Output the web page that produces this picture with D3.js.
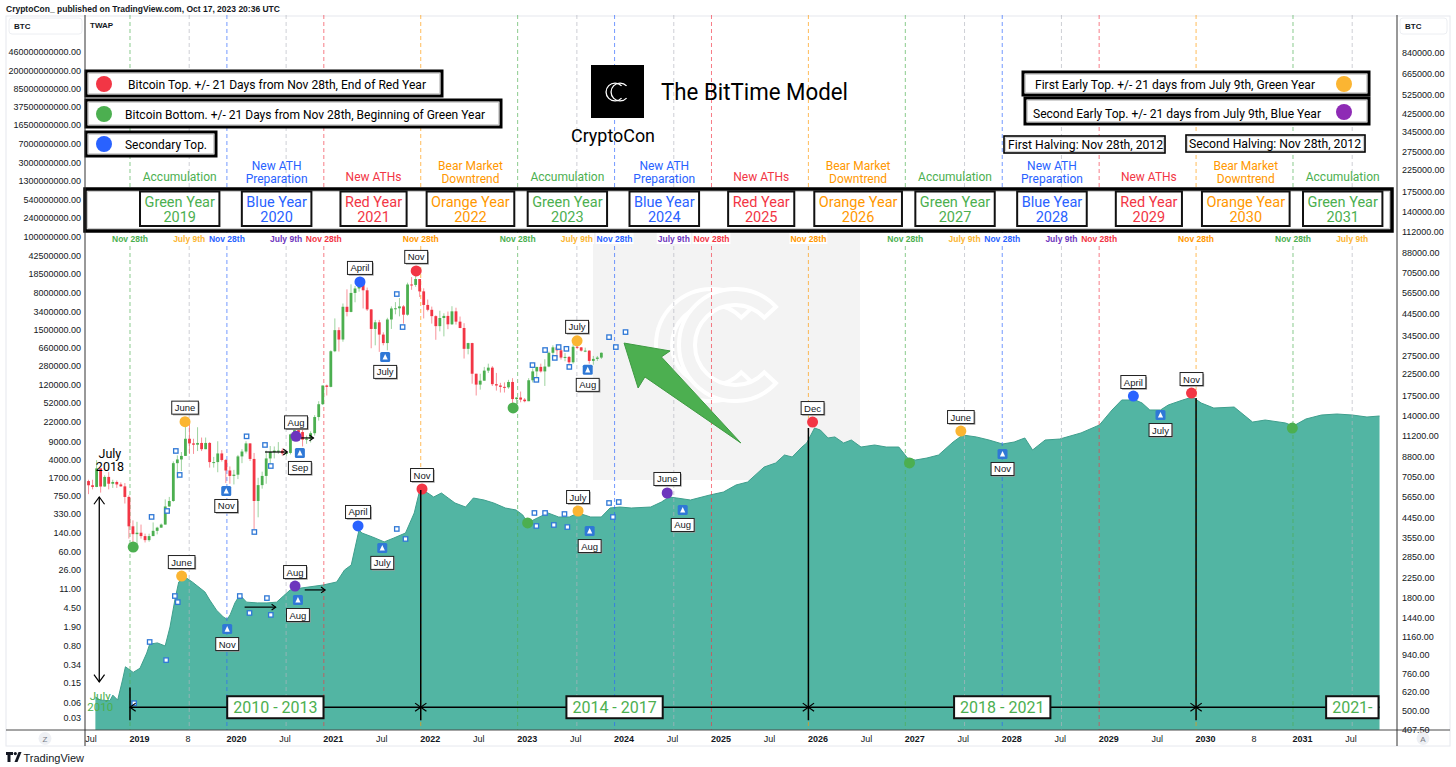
<!DOCTYPE html>
<html>
<head>
<meta charset="utf-8">
<title>The BitTime Model</title>
<script src="https://cdn.jsdelivr.net/npm/d3@7"></script>
<style>
  body { margin: 0; background: #fff; }
  svg text { font-family: "Liberation Sans", Arial, sans-serif; fill: #131722; }
  svg text.an { font-family: Roboto, "Liberation Sans", sans-serif; }
</style>
</head>
<body>
<svg id="chart"></svg>
<script>
// ---------- axis ticks ----------
var leftTicks = [0.03, 0.06, 0.15, 0.34, 0.80, 1.90, 4.50, 11, 26, 60, 140, 330, 750, 1700, 4000, 9000,
  22000, 52000, 120000, 280000, 660000, 1500000, 3400000, 8000000, 18500000, 42500000, 100000000,
  240000000, 540000000, 1300000000, 3000000000, 7000000000, 16500000000, 37500000000, 85000000000,
  200000000000, 460000000000];
var rightTicks = [407.5, 500, 620, 760, 940, 1160, 1440, 1800, 2250, 2850, 3550, 4450, 5650, 7050, 8800,
  11200, 14000, 17500, 22500, 27500, 34500, 44500, 56500, 70500, 88000, 112000, 140000, 175000, 225000,
  275000, 345000, 425000, 525000, 665000, 840000];
var timeTicks = [2018.5, 2019, 2019.5, 2020, 2020.5, 2021, 2021.5, 2022, 2022.5, 2023, 2023.5, 2024, 2024.5,
  2025, 2025.5, 2026, 2026.5, 2027, 2027.5, 2028, 2028.5, 2029, 2029.5, 2030, 2030.5, 2031, 2031.5];
var timeLabels = ["Jul", "2019", "8", "2020", "Jul", "2021", "Jul", "2022", "Jul", "2023", "Jul", "2024", "Jul",
  "2025", "Jul", "2026", "Jul", "2027", "Jul", "2028", "Jul", "2029", "Jul", "2030", "8", "2031", "Jul"];

// ---------- BTC history (area, left scale, drawn 8 years ahead) ----------
var areaShift = 8;
var areaYears = [2010.55, 2010.60, 2010.70, 2010.73, 2010.78, 2010.83, 2010.86, 2010.94, 2011.01, 2011.08,
  2011.11, 2011.19, 2011.27, 2011.32, 2011.37, 2011.41, 2011.49, 2011.55, 2011.63, 2011.68, 2011.73, 2011.80,
  2011.87, 2011.91, 2011.94, 2011.99, 2012.04, 2012.11, 2012.22, 2012.32, 2012.42, 2012.49, 2012.56, 2012.67,
  2012.90, 2013.04, 2013.12, 2013.19, 2013.27, 2013.30, 2013.41, 2013.53, 2013.63, 2013.75, 2013.84, 2013.89,
  2013.92, 2013.98, 2014.04, 2014.12, 2014.19, 2014.26, 2014.37, 2014.45, 2014.56, 2014.66, 2014.78, 2014.89,
  2014.96, 2015.01, 2015.11, 2015.22, 2015.33, 2015.44, 2015.53, 2015.66, 2015.77, 2015.86, 2015.96, 2016.08,
  2016.28, 2016.39, 2016.47, 2016.55, 2016.69, 2016.89, 2017.03, 2017.16, 2017.28, 2017.45, 2017.57, 2017.66,
  2017.74, 2017.84, 2017.89, 2017.97, 2018.03, 2018.11, 2018.18, 2018.27, 2018.35, 2018.45, 2018.59, 2018.71,
  2018.84, 2018.93, 2019.01, 2019.13, 2019.25, 2019.40, 2019.50, 2019.64, 2019.77, 2019.91, 2020.03, 2020.14,
  2020.22, 2020.35, 2020.50, 2020.72, 2020.91, 2021.04, 2021.14, 2021.28, 2021.35, 2021.43, 2021.54, 2021.62,
  2021.77, 2021.87, 2021.96, 2022.09, 2022.30, 2022.49, 2022.62, 2022.83, 2022.91, 2023.04, 2023.20, 2023.36,
  2023.52, 2023.67, 2023.80];
var areaPrices = [0.078, 0.068, 0.066, 0.085, 0.068, 0.17, 0.31, 0.24, 0.29, 0.58,
  0.87, 0.92, 0.80, 1.9, 6.5, 14.8, 17.7, 14.8, 11.2, 9.4, 6.5, 4.1,
  3.0, 2.7, 3.3, 5.7, 8.2, 5.9, 5.7, 5.7, 5.9, 7.8, 10.3, 11.2,
  12.9, 14.8, 25.5, 32, 158, 138, 115, 92, 110, 138, 344, 855,
  936, 855, 711, 855, 680, 542, 451, 680, 621, 542, 431, 394,
  313, 218, 274, 344, 286, 286, 344, 286, 286, 431, 451, 431,
  451, 566, 711, 680, 621, 780, 893, 1230, 1410, 2790, 3360, 4830,
  4410, 6950, 8350, 16500, 15100, 10500, 11000, 8350, 9570, 6950, 7620, 6950,
  6950, 4210, 3840, 4210, 4830, 8730, 12000, 11000, 9570, 7980, 8730, 10500,
  6070, 9570, 10000, 13200, 19000, 37600, 59300, 59300, 51700, 37600, 37600, 47200,
  59300, 67900, 51700, 41100, 43000, 21700, 23800, 20800, 18100, 24900, 29900, 31300,
  29900, 27300, 28600];

// ---------- BTC candles, half-month, from 2018-06-16 (right scale) ----------
var candleOpen0 = 6700;
var candleClose = [6390, 6270, 7730, 6300, 7020, 6500, 6630, 6450, 6310, 5600, 4020, 3680, 3740,
  3600, 3440, 3600, 3820, 3960, 4100, 5030, 5350, 8200, 8550, 8900, 10800, 10250, 10100, 10300, 9600, 10300, 8300, 8300, 9150, 8500, 7550, 7100, 7200,
  8850, 9350, 10250, 8600, 5350, 6400, 7100, 8650, 9300, 9450, 9450, 9150, 9200, 11350, 11900, 11650, 10700, 10800, 11500, 13800, 15950, 19700, 19400, 29000,
  36800, 33100, 47900, 45200, 56000, 58900, 63200, 57700, 46500, 37300, 40200, 35000, 31800, 41500, 47000, 47100, 48100, 43800, 61600, 61300, 65500, 57000, 48900, 46300,
  43100, 38500, 42200, 43200, 39300, 45500, 40500, 37700, 29800, 31800, 22500, 19900, 20800, 23300, 24100, 20000, 19700, 19400, 19300, 20500, 16900, 17200, 16800, 16500,
  20900, 23100, 24300, 23100, 24400, 28500, 30300, 29300, 27000, 27200, 25600, 30500, 30300, 29200, 29200, 26000, 26600, 27000, 28500];
var candleHigh = [6800, 6800, 8480, 7700, 7150, 7410, 6800, 6740, 6600, 6550, 5700, 4300, 4230,
  4100, 3700, 3700, 4200, 4000, 4150, 5450, 5600, 8370, 8950, 9300, 13800, 13200, 10800, 12300, 10950, 10950, 10400, 8800, 10500, 9500, 8600, 7900, 7600,
  9000, 9600, 10500, 10200, 9200, 6950, 7450, 9450, 9950, 9900, 10400, 9700, 9350, 11450, 12050, 12450, 12050, 11200, 11750, 14100, 16500, 19500, 19900, 29300,
  42000, 38000, 49700, 58300, 61700, 60600, 64800, 63500, 59500, 46700, 41300, 41300, 35900, 42300, 48100, 50500, 52900, 48800, 62900, 67000, 69000, 61000, 59000, 52000,
  48000, 43500, 45800, 44500, 45400, 48200, 47400, 42900, 39800, 31900, 31900, 21700, 22500, 24300, 25200, 24500, 22700, 20300, 20400, 21000, 21400, 17200, 18400, 17100,
  21400, 23900, 24300, 25200, 26500, 28900, 31000, 30500, 29800, 28400, 27500, 31400, 31800, 30400, 30200, 29300, 27500, 27500, 28600];
var candleLow = [5780, 6100, 6250, 5880, 6280, 6100, 6200, 6200, 6300, 5200, 3500, 3150, 3250,
  3500, 3350, 3380, 3600, 3670, 3950, 4100, 5000, 5300, 6900, 7500, 9000, 9100, 9100, 9400, 9400, 9650, 7800, 7800, 7400, 8350, 6550, 6500, 6450,
  6850, 8200, 9150, 8400, 3900, 4450, 6150, 6500, 8100, 8650, 9100, 8900, 8900, 9050, 10600, 11150, 9900, 10200, 10350, 11200, 13250, 15800, 17600, 19300,
  28700, 28900, 32300, 43000, 45000, 50400, 56800, 47000, 45700, 30000, 31000, 28800, 31000, 29300, 37300, 44000, 43000, 39600, 43300, 58000, 60000, 53500, 42000, 45500,
  39600, 33000, 36300, 34300, 37200, 39000, 39200, 37600, 26700, 28000, 20100, 17600, 18800, 20800, 22700, 19600, 18600, 18200, 18200, 19000, 15600, 15500, 16300, 16300,
  16500, 20400, 21400, 22800, 19600, 24200, 27200, 27000, 26400, 25900, 24800, 25200, 29700, 28900, 28700, 25200, 24900, 26000, 26600];

// ---------- cycle markers ----------
var candleDots = [
  {yr: 2018.94, v: 3180, c: "green"}, {yr: 2019.475, v: 13100, c: "yellow", t: "June"},
  {yr: 2020.62, v: 11100, c: "purple", t: "Aug"}, {yr: 2021.28, v: 63400, c: "blue", t: "April"},
  {yr: 2021.86, v: 71800, c: "red", t: "Nov"}, {yr: 2022.86, v: 15300, c: "green"},
  {yr: 2023.52, v: 32600, c: "yellow", t: "July"}];
var candleFlags = [{yr: 2019.90, v: 5990, t: "Nov"}, {yr: 2020.66, v: 9200, t: "Sep"},
  {yr: 2021.54, v: 27200, t: "July"}, {yr: 2023.63, v: 23500, t: "Aug"}];
var candleTwap = [[2019.13, 4470], [2019.29, 4780], [2019.38, 9410], [2019.42, 7180], [2020.11, 11100], [2020.19, 3770],
  [2020.30, 10070], [2020.36, 7940], [2021.66, 55300], [2021.72, 38100], [2023.06, 24800], [2023.10, 21000],
  [2023.19, 29400], [2023.29, 26900], [2023.33, 30400], [2023.41, 29800], [2023.44, 24300], [2023.85, 34000],
  [2023.92, 30400], [2024.02, 36000]];
var candleArrows = [[2020.30, 2020.53, 9300], [2020.59, 2020.80, 10900]];

var areaDots = [
  {yr: 2011.44, v: 19.4, c: "yellow", t: "June"}, {yr: 2012.61, v: 12.3, c: "purple", t: "Aug"},
  {yr: 2013.26, v: 190, c: "blue", t: "April"}, {yr: 2013.92, v: 1025, c: "red", t: "Nov"},
  {yr: 2015.01, v: 218, c: "green"}, {yr: 2015.53, v: 376, c: "yellow", t: "July"},
  {yr: 2016.45, v: 855, c: "purple", t: "June"}, {yr: 2017.95, v: 21700, c: "red", t: "Dec"},
  {yr: 2018.95, v: 3360, c: "green"}, {yr: 2019.48, v: 14400, c: "yellow", t: "June"},
  {yr: 2021.26, v: 71100, c: "blue", t: "April"}, {yr: 2021.86, v: 81500, c: "red", t: "Nov"},
  {yr: 2022.90, v: 16500, c: "green"}];
var areaFlags = [{yr: 2011.91, v: 1.73, t: "Nov"}, {yr: 2012.64, v: 6.5, t: "Aug"}, {yr: 2013.51, v: 70, t: "July"},
  {yr: 2015.65, v: 151, t: "Aug"}, {yr: 2016.61, v: 394, t: "Aug"}, {yr: 2019.91, v: 5060, t: "Nov"},
  {yr: 2021.54, v: 29900, t: "July"}];
var areaTwap = [[2010.95, 0.059], [2011.11, 0.96], [2011.28, 0.42], [2011.37, 7.8], [2011.40, 5.9], [2012.04, 7.8],
  [2012.14, 3.6], [2012.32, 7.1], [2012.36, 3.3], [2013.66, 166], [2013.75, 105], [2015.08, 344], [2015.10, 190],
  [2015.19, 344], [2015.28, 199], [2015.39, 328], [2015.42, 181], [2015.85, 542], [2015.89, 286], [2015.95, 566]];
var areaArrows = [[2012.09, 2012.41, 4.7], [2012.71, 2012.92, 10.3]];

// cycle tops (left scale) and the 4-year ranges
var cycleYears = [2018.907, 2021.907, 2025.907, 2029.907];
var cycleTops = [0.12, 980, 16500, 64900];
var cycleNames = ["2010 - 2013", "2014 - 2017", "2018 - 2021", "2021-"];

// ---------- calendar ----------
var novYears = [2018, 2019, 2020, 2021, 2022, 2023, 2024, 2025, 2026, 2027, 2028, 2029, 2030];
var julYears = [2019, 2020, 2023, 2024, 2027, 2028, 2031];
var bandYears = [2019, 2020, 2021, 2022, 2023, 2024, 2025, 2026, 2027, 2028, 2029, 2030, 2031];
var yearNames = ["Green Year", "Blue Year", "Red Year", "Orange Year"];
var phaseNames = [["Accumulation"], ["New ATH", "Preparation"], ["New ATHs"], ["Bear Market", "Downtrend"]];
var phaseColors = ["green", "blue", "red", "orange"];

var C = {green: "#4caf50", blue: "#2962ff", red: "#f23645", orange: "#ff9800", yellow: "#fbb532",
  purple: "#6d35bd", gray: "#b2b5be", teal: "#52b5a3", flag: "#2f78d6"};

// ---------- setup ----------
var W = 1456, H = 767;
var X0 = 85, X1 = 1397, Y0 = 15, Y1 = 730;

var svg = d3.select("#chart").attr("width", W).attr("height", H);

var x = d3.scaleLinear().domain([2019, 2031]).range([139, 1302]);
var yL = d3.scaleLog().domain([0.03, 4.6e11]).range([718, 52]);
var yR = d3.scaleLog().domain([500, 840000]).range([711, 53]);

svg.append("defs").append("clipPath").attr("id", "plot")
   .append("rect").attr("x", X0).attr("y", Y0).attr("width", X1 - X0).attr("height", Y1 - Y0);

svg.append("rect").attr("x", 6).attr("y", 16).attr("width", 1444).attr("height", 730)
   .attr("fill", "#fff").attr("stroke", "#e6e8ee");

var plot = svg.append("g").attr("clip-path", "url(#plot)");

// watermark
plot.append("rect").attr("x", 593).attr("y", 233).attr("width", 267).attr("height", 247).attr("fill", "#f3f3f3");
function cShape(r0, r1) {
  return d3.arc()({innerRadius: r0, outerRadius: r1, startAngle: Math.PI / 2 + 0.75, endAngle: Math.PI * 2.5 - 0.75});
}
plot.append("path").attr("d", cShape(40, 56)).attr("transform", "translate(712,345)")
    .attr("fill", "#f3f3f3").attr("stroke", "#fff").attr("stroke-width", 4);
plot.append("path").attr("d", cShape(40, 56)).attr("transform", "translate(735,345)")
    .attr("fill", "#f3f3f3").attr("stroke", "#fff").attr("stroke-width", 4);

// area
var areaData = areaYears.map(function(d, i) { return {yr: d + areaShift, v: areaPrices[i]}; });
plot.append("path").datum(areaData)
    .attr("d", d3.area().x(function(d) { return x(d.yr); }).y0(Y1).y1(function(d) { return yL(d.v); }))
    .attr("fill", C.teal);
plot.append("path").datum(areaData)
    .attr("d", d3.line().x(function(d) { return x(d.yr); }).y(function(d) { return yL(d.v); }))
    .attr("fill", "none").attr("stroke", "#3f9f8d").attr("stroke-width", 1);

// dashed calendar lines
var vlines = novYears.map(function(y) { return {yr: y + 0.907, c: phaseColors[(y - 2018) % 4], lc: phaseColors[(y - 2018) % 4], t: "Nov 28th"}; })
  .concat(julYears.map(function(y) { return {yr: y + 0.518, c: "gray", lc: (y - 2019) % 4 == 0 ? "yellow" : "purple", t: "July 9th"}; }));
plot.selectAll(".vl").data(vlines).enter().append("line")
    .attr("x1", function(d) { return x(d.yr); }).attr("x2", function(d) { return x(d.yr); })
    .attr("y1", Y0).attr("y2", Y1)
    .attr("stroke", function(d) { return C[d.c]; }).attr("stroke-opacity", 0.65)
    .attr("stroke-width", 1).attr("stroke-dasharray", "4,3");

// candles
var candles = candleClose.map(function(c, k) {
  var h = (2018 * 12 + 5) * 2 + 1 + k;
  var yy = Math.floor(h / 24), mm = Math.floor(h / 2) % 12, hf = h % 2;
  return {yr: yy + (mm + hf * 0.5 + 0.25) / 12, o: k == 0 ? candleOpen0 : candleClose[k - 1],
          c: c, h: candleHigh[k], l: candleLow[k]};
});
var cg = plot.append("g");
cg.selectAll("line").data(candles).enter().append("line")
  .attr("x1", function(d) { return x(d.yr); }).attr("x2", function(d) { return x(d.yr); })
  .attr("y1", function(d) { return yR(Math.max(d.h, d.o, d.c)); })
  .attr("y2", function(d) { return yR(Math.min(d.l, d.o, d.c)); })
  .attr("stroke", function(d) { return d.c >= d.o ? C.green : C.red; }).attr("stroke-opacity", 0.55);
cg.selectAll("rect").data(candles).enter().append("rect")
  .attr("x", function(d) { return x(d.yr) - 1.4; }).attr("width", 2.8)
  .attr("y", function(d) { return yR(Math.max(d.o, d.c)); })
  .attr("height", function(d) { return Math.max(1, Math.abs(yR(d.o) - yR(d.c))); })
  .attr("fill", function(d) { return d.c >= d.o ? C.green : C.red; });

// ---------- markers ----------
var mk = svg.append("g");
function tag(px, py, txt) {
  var t = mk.append("text").attr("x", px).attr("y", py + 3.5).attr("text-anchor", "middle")
            .style("font-size", "9.5px").text(txt);
  var w = t.node().getComputedTextLength() + 6;
  mk.insert("rect", function() { return t.node(); }).attr("x", px - w / 2 + 1.2).attr("y", py - 6.5 + 1.2)
    .attr("width", w).attr("height", 13).attr("fill", "#999");
  mk.insert("rect", function() { return t.node(); }).attr("x", px - w / 2).attr("y", py - 6.5)
    .attr("width", w).attr("height", 13).attr("fill", "#fff").attr("stroke", "#222").attr("stroke-width", 1);
}
function twap(list, xf, yf) {
  list.forEach(function(d) {
    mk.append("rect").attr("x", xf(d[0]) - 2.2).attr("y", yf(d[1]) - 2.2).attr("width", 4.4).attr("height", 4.4)
      .attr("fill", "#fff").attr("stroke", C.flag).attr("stroke-width", 1.3);
  });
}
function flags(list, xf, yf) {
  list.forEach(function(d) {
    var px = xf(d.yr), py = yf(d.v);
    mk.append("rect").attr("x", px - 5).attr("y", py - 5).attr("width", 10).attr("height", 10).attr("rx", 1.5).attr("fill", C.flag);
    mk.append("path").attr("d", "M" + (px - 2.6) + "," + (py + 2.6) + "L" + px + "," + (py - 3) + "L" + (px + 2.6) + "," + (py + 2.6) + "Z").attr("fill", "#fff");
    tag(px, py + 15, d.t);
  });
}
function dots(list, xf, yf) {
  list.forEach(function(d) {
    var px = xf(d.yr), py = yf(d.v);
    mk.append("circle").attr("cx", px).attr("cy", py).attr("r", 5.5).attr("fill", C[d.c]);
    if (d.t) tag(px, py - 14, d.t);
  });
}
function arrowHead(g, px, py, ang, s) {
  var a1 = ang + Math.PI * 0.8, a2 = ang - Math.PI * 0.8;
  g.append("path").attr("d", "M" + (px + s * Math.cos(a1)) + "," + (py + s * Math.sin(a1)) + "L" + px + "," + py +
    "L" + (px + s * Math.cos(a2)) + "," + (py + s * Math.sin(a2)))
   .attr("fill", "none").attr("stroke", "#000").attr("stroke-width", 1.2);
}
function hArrows(list, xf, yf) {
  list.forEach(function(d) {
    var xa = xf(d[0]), xb = xf(d[1]), py = yf(d[2]);
    mk.append("line").attr("x1", xa).attr("x2", xb).attr("y1", py).attr("y2", py).attr("stroke", "#000").attr("stroke-width", 1.2);
    arrowHead(mk, xb, py, 0, 5);
  });
}
var xA = function(yr) { return x(yr + areaShift); };
var xC = function(yr) { return x(yr); };

twap(areaTwap, xA, yL);
twap(candleTwap, xC, yR);
hArrows(areaArrows, xA, yL);
hArrows(candleArrows, xC, yR);

// cycles: vertical lines, range line, range boxes
var cyg = svg.append("g");
var bandY = yL(0.049), endX = x(d3.max(areaYears) + areaShift);
cycleYears.forEach(function(cy, i) {
  cyg.append("line").attr("x1", x(cy)).attr("x2", x(cy)).attr("y1", yL(cycleTops[i])).attr("y2", yL(0.027))
     .attr("stroke", "#000").attr("stroke-width", 1.5);
});
cyg.append("line").attr("x1", x(cycleYears[0])).attr("x2", endX).attr("y1", bandY).attr("y2", bandY)
   .attr("stroke", "#000").attr("stroke-width", 1.3);
arrowHead(cyg, x(cycleYears[0]), bandY, Math.PI, 7);
cycleYears.slice(1).forEach(function(cy) {
  arrowHead(cyg, x(cy), bandY, 0, 7);
  arrowHead(cyg, x(cy), bandY, Math.PI, 7);
});
cycleNames.forEach(function(n, i) {
  var t = cyg.append("text").attr("class", "an").attr("text-anchor", "middle").style("font-size", "16px")
             .style("fill", C.green).text(n);
  var w = t.node().getComputedTextLength() + 12;
  var cx = i < 3 ? (x(cycleYears[i]) + x(cycleYears[i + 1])) / 2 : endX - w / 2 - 1;
  t.attr("x", cx).attr("y", bandY + 5.5);
  cyg.insert("rect", function() { return t.node(); }).attr("x", cx - w / 2).attr("y", bandY - 11)
     .attr("width", w).attr("height", 22).attr("fill", "#fff").attr("stroke", "#111").attr("stroke-width", 2);
});

flags(areaFlags, xA, yL);
flags(candleFlags, xC, yR);
dots(areaDots, xA, yL);
dots(candleDots, xC, yR);

// left notes
var firstX = x(2018.59);
mk.append("line").attr("x1", firstX).attr("x2", firstX).attr("y1", yR(5600)).attr("y2", yR(694)).attr("stroke", "#000").attr("stroke-width", 1.3);
arrowHead(mk, firstX, yR(5600), -Math.PI / 2, 9);
arrowHead(mk, firstX, yR(694), Math.PI / 2, 9);
["July", "2018"].forEach(function(s, i) {
  mk.append("text").attr("class", "an").attr("x", x(2018.70)).attr("y", yR(8300) - 4 + i * 13)
    .attr("text-anchor", "middle").style("font-size", "12.5px").style("fill", "#000").text(s);
});
["July", "2010"].forEach(function(s, i) {
  mk.append("text").attr("class", "an").attr("x", x(2018.60)).attr("y", yL(0.06) - 3 + i * 11.5)
    .attr("text-anchor", "middle").style("font-size", "11.5px").style("fill", C.green).text(s);
});

// big green arrow
var bigArrow = [[2024.005, 31800], [2024.48, 29100], [2024.39, 27200], [2025.21, 10300], [2024.22, 21700], [2024.15, 19150]];
mk.append("path").attr("d", d3.line().x(function(d) { return x(d[0]); }).y(function(d) { return yR(d[1]); })(bigArrow) + "Z")
  .attr("fill", C.green).attr("stroke", "#3e9a42").attr("stroke-width", 1);

// ---------- legend boxes / header graphics ----------
var lg = svg.append("g");
function noteBox(bx, by, bw, bh, sw) {
  lg.append("rect").attr("x", bx).attr("y", by).attr("width", bw).attr("height", bh)
    .attr("fill", "#fff").attr("stroke", "#000").attr("stroke-width", sw);
  lg.append("rect").attr("x", bx + sw / 2 + 0.8).attr("y", by + sw / 2 + 0.8).attr("width", bw - sw - 1.6).attr("height", bh - sw - 1.6)
    .attr("fill", "none").attr("stroke", "#c9c9c9").attr("stroke-width", 1);
}
function noteText(tx, ty, s, len, fs) {
  lg.append("text").attr("class", "an").attr("x", tx).attr("y", ty).style("font-size", fs + "px").style("fill", "#000")
    .attr("textLength", len).attr("lengthAdjust", "spacingAndGlyphs").text(s);
}
noteBox(86, 71, 356, 25, 3);
lg.append("circle").attr("cx", 104).attr("cy", 84).attr("r", 8).attr("fill", C.red);
noteText(128, 89, "Bitcoin Top. +/- 21 Days from Nov 28th, End of Red Year", 298, 13);
noteBox(86, 100, 415, 27, 3);
lg.append("circle").attr("cx", 104).attr("cy", 114).attr("r", 8).attr("fill", C.green);
noteText(125, 118.5, "Bitcoin Bottom. +/- 21 Days from Nov 28th, Beginning of Green Year", 360, 13);
noteBox(86, 132, 130, 24, 3);
lg.append("circle").attr("cx", 104).attr("cy", 144).attr("r", 8).attr("fill", C.blue);
noteText(125, 148.5, "Secondary Top.", 82, 13);

noteBox(1023, 72, 346, 23, 3);
noteText(1035, 88.5, "First Early Top. +/- 21 days from July 9th, Green Year", 280, 13);
lg.append("circle").attr("cx", 1344).attr("cy", 84).attr("r", 8).attr("fill", C.yellow);
noteBox(1025, 98, 344, 26, 3);
noteText(1033, 117.5, "Second Early Top. +/- 21 days from July 9th, Blue Year", 288, 13);
lg.append("circle").attr("cx", 1344).attr("cy", 112).attr("r", 8).attr("fill", "#8e2bb5");

noteBox(1004, 136, 161, 17, 1.6);
noteText(1008, 149, "First Halving: Nov 28th, 2012", 155, 12);
noteBox(1186, 135, 179, 17, 1.6);
noteText(1189, 148, "Second Halving: Nov 28th, 2012", 172, 12);

// logo and title
lg.append("rect").attr("x", 591).attr("y", 65).attr("width", 53).attr("height", 53).attr("fill", "#000");
lg.append("path").attr("d", cShape(8.3, 9.6)).attr("transform", "translate(615,92)").attr("fill", "#fff");
lg.append("path").attr("d", cShape(8.3, 9.6)).attr("transform", "translate(620,92)").attr("fill", "#fff");
lg.append("text").attr("class", "an").attr("x", 613).attr("y", 142).attr("text-anchor", "middle")
  .style("font-size", "18px").style("fill", "#000").attr("textLength", 84).attr("lengthAdjust", "spacingAndGlyphs").text("CryptoCon");
lg.append("text").attr("class", "an").attr("x", 661).attr("y", 100)
  .style("font-size", "24px").style("fill", "#000").attr("textLength", 187).attr("lengthAdjust", "spacingAndGlyphs").text("The BitTime Model");

// phase labels and year band
noteBox(85, 189, 1307, 42, 3.5);
bandYears.forEach(function(yv) {
  var k = (yv - 2019) % 4, col = C[phaseColors[k]], cx = x(yv + 0.42);
  var ph = phaseNames[k];
  ph.forEach(function(s, i) {
    lg.append("text").attr("class", "an").attr("x", cx).attr("y", (ph.length == 1 ? 181 : 170) + i * 12.5)
      .attr("text-anchor", "middle").style("font-size", "12px").style("fill", col).text(s);
  });
  var g = lg.append("g");
  var t1 = g.append("text").attr("class", "an").attr("x", cx).attr("y", 206.5).attr("text-anchor", "middle")
            .style("font-size", "14.5px").style("fill", col).text(yearNames[k]);
  g.append("text").attr("class", "an").attr("x", cx).attr("y", 221.5).attr("text-anchor", "middle")
   .style("font-size", "14.5px").style("fill", col).text(String(yv));
  var w = t1.node().getComputedTextLength() + 9;
  g.insert("rect", "text").attr("x", cx - w / 2).attr("y", 191.5).attr("width", w).attr("height", 34.5)
   .attr("fill", "#fff").attr("stroke", "#111").attr("stroke-width", 2);
});

// calendar line labels
vlines.forEach(function(d) {
  var t = lg.append("text").attr("x", x(d.yr)).attr("y", 241.5).attr("text-anchor", "middle")
            .style("font-size", "8.5px").style("font-weight", "bold").style("fill", C[d.lc]).text(d.t);
  var w = t.node().getComputedTextLength() + 2;
  lg.insert("rect", function() { return t.node(); }).attr("x", x(d.yr) - w / 2).attr("y", 233).attr("width", w).attr("height", 11).attr("fill", "#fff");
});

// ---------- axes ----------
var ax = svg.append("g");
ax.append("line").attr("x1", 6).attr("x2", 1450).attr("y1", Y1).attr("y2", Y1).attr("stroke", "#4a4a4a");
ax.append("line").attr("x1", X0).attr("x2", X0).attr("y1", Y0).attr("y2", 746).attr("stroke", "#333");
ax.append("line").attr("x1", X1).attr("x2", X1).attr("y1", Y0).attr("y2", 746).attr("stroke", "#333");

var la = ax.append("g").attr("transform", "translate(81,0)")
  .call(d3.axisLeft(yL).tickValues(leftTicks).tickSize(0).tickPadding(0).tickFormat(function(d) { return d.toFixed(2); }));
la.select(".domain").remove();
la.selectAll("text").style("font-size", "9px").style("font-family", "Liberation Sans, Arial, sans-serif").attr("fill", "#131722");

var ra = ax.append("g").attr("transform", "translate(1402,0)")
  .call(d3.axisRight(yR).tickValues(rightTicks).tickSize(0).tickPadding(0).tickFormat(function(d) { return d.toFixed(2); }));
ra.select(".domain").remove();
ra.selectAll("text").style("font-size", "9px").style("font-family", "Liberation Sans, Arial, sans-serif").attr("fill", "#131722");

var ba = ax.append("g").attr("transform", "translate(0," + Y1 + ")")
  .call(d3.axisBottom(x).tickValues(timeTicks).tickSize(0).tickPadding(6)
        .tickFormat(function(d, i) { return timeLabels[i]; }));
ba.select(".domain").remove();
ba.selectAll("text").style("font-size", "9px").style("font-family", "Liberation Sans, Arial, sans-serif").attr("fill", "#131722")
  .style("font-weight", function(d) { return d % 1 == 0 ? "bold" : "normal"; });

// price scale headers
[[9, 73], [1400, 47]].forEach(function(b) {
  ax.append("rect").attr("x", b[0]).attr("y", 18).attr("width", b[1]).attr("height", 16).attr("rx", 3)
    .attr("fill", "#fff").attr("stroke", "#eceef2");
  ax.append("text").attr("x", b[0] + 5).attr("y", 29).style("font-size", "8px").style("font-weight", "bold").text("BTC");
});
ax.append("text").attr("x", 90).attr("y", 28).style("font-size", "8px").style("font-weight", "bold").text("TWAP");
ax.append("text").attr("x", 6).attr("y", 12).style("font-size", "8.5px").style("font-weight", "bold")
  .text("CryptoCon_ published on TradingView.com, Oct 17, 2023 20:36 UTC");

[[45, "Z"], [1423, "A"]].forEach(function(b) {
  ax.append("circle").attr("cx", b[0]).attr("cy", 738.5).attr("r", 6.5).attr("fill", "#eef0f4");
  ax.append("text").attr("x", b[0]).attr("y", 741.5).attr("text-anchor", "middle").style("font-size", "8px").style("fill", "#787b86").text(b[1]);
});

// TradingView mark
ax.append("path").attr("d", "M6,752h7v3h-2.5v7h-3v-7h-1.5z").attr("fill", "#131722");
ax.append("circle").attr("cx", 15.3).attr("cy", 753.6).attr("r", 1.6).attr("fill", "#131722");
ax.append("path").attr("d", "M14.5,762L18.5,752h3l-4,10z").attr("fill", "#131722");
ax.append("text").attr("x", 23.5).attr("y", 761.5).style("font-size", "11px").style("fill", "#131722").text("TradingView");
</script>
</body>
</html>
